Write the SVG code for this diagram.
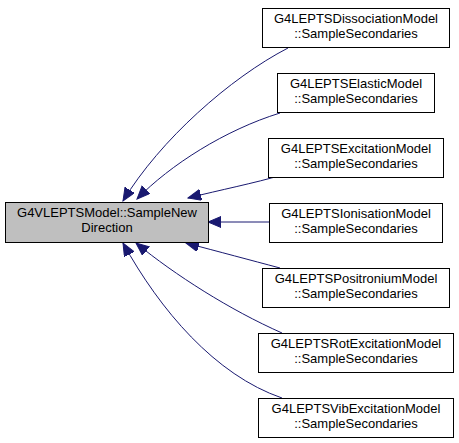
<svg xmlns="http://www.w3.org/2000/svg" width="459" height="443" viewBox="0 0 459 443">
<style>
.n rect{fill:#ffffff;stroke:#000000;stroke-width:1}
.n.main rect{fill:#bfbfbf}
.n text{font-family:"Liberation Sans",Arial,sans-serif;font-size:13px;fill:#000000;text-anchor:middle}
.e path{fill:none;stroke:#191970;stroke-width:1}
</style>
<defs>
<marker id="ah" markerUnits="userSpaceOnUse" markerWidth="14" markerHeight="12" refX="13" refY="5.5" orient="auto">
<polygon points="0,0 13,5.5 0,11" fill="#191970" stroke="#191970" stroke-width="1"/>
</marker>
</defs>
<rect width="459" height="443" fill="#ffffff"/>
<g id="connectors" class="e">
<path d="M288,48 C230,78 160,140 123,201" marker-end="url(#ah)"/>
<path d="M280,113 C225,130 170,165 137,199" marker-end="url(#ah)"/>
<path d="M282,175 C255,183 220,190 188,198" marker-end="url(#ah)"/>
<path d="M269,222 L208,222" marker-end="url(#ah)"/>
<path d="M280,268 C250,260 220,252 186,243" marker-end="url(#ah)"/>
<path d="M282,333 C230,310 175,275 136,243" marker-end="url(#ah)"/>
<path d="M282,398 C215,375 160,310 123,243" marker-end="url(#ah)"/>
</g>
<g id="node-main" class="n main">
<rect x="5.5" y="202.5" width="203" height="40"/>
<text x="107" y="217">G4VLEPTSModel::SampleNew</text>
<text x="107" y="232">Direction</text>
</g>
<g id="node-dissociation" class="n">
<rect x="262.5" y="8.5" width="187" height="39"/>
<text x="356" y="23">G4LEPTSDissociationModel</text>
<text x="356" y="38">::SampleSecondaries</text>
</g>
<g id="node-elastic" class="n">
<rect x="277.5" y="73.5" width="157" height="39"/>
<text x="356" y="88">G4LEPTSElasticModel</text>
<text x="356" y="103">::SampleSecondaries</text>
</g>
<g id="node-excitation" class="n">
<rect x="268.5" y="138.5" width="175" height="39"/>
<text x="356" y="153">G4LEPTSExcitationModel</text>
<text x="356" y="168">::SampleSecondaries</text>
</g>
<g id="node-ionisation" class="n">
<rect x="269.5" y="203.5" width="173" height="39"/>
<text x="356" y="218">G4LEPTSIonisationModel</text>
<text x="356" y="233">::SampleSecondaries</text>
</g>
<g id="node-positronium" class="n">
<rect x="262.5" y="268.5" width="187" height="39"/>
<text x="356" y="283">G4LEPTSPositroniumModel</text>
<text x="356" y="298">::SampleSecondaries</text>
</g>
<g id="node-rotexcitation" class="n">
<rect x="258.5" y="333.5" width="195" height="39"/>
<text x="356" y="348">G4LEPTSRotExcitationModel</text>
<text x="356" y="363">::SampleSecondaries</text>
</g>
<g id="node-vibexcitation" class="n">
<rect x="258.5" y="398.5" width="195" height="39"/>
<text x="356" y="413">G4LEPTSVibExcitationModel</text>
<text x="356" y="428">::SampleSecondaries</text>
</g>
</svg>
